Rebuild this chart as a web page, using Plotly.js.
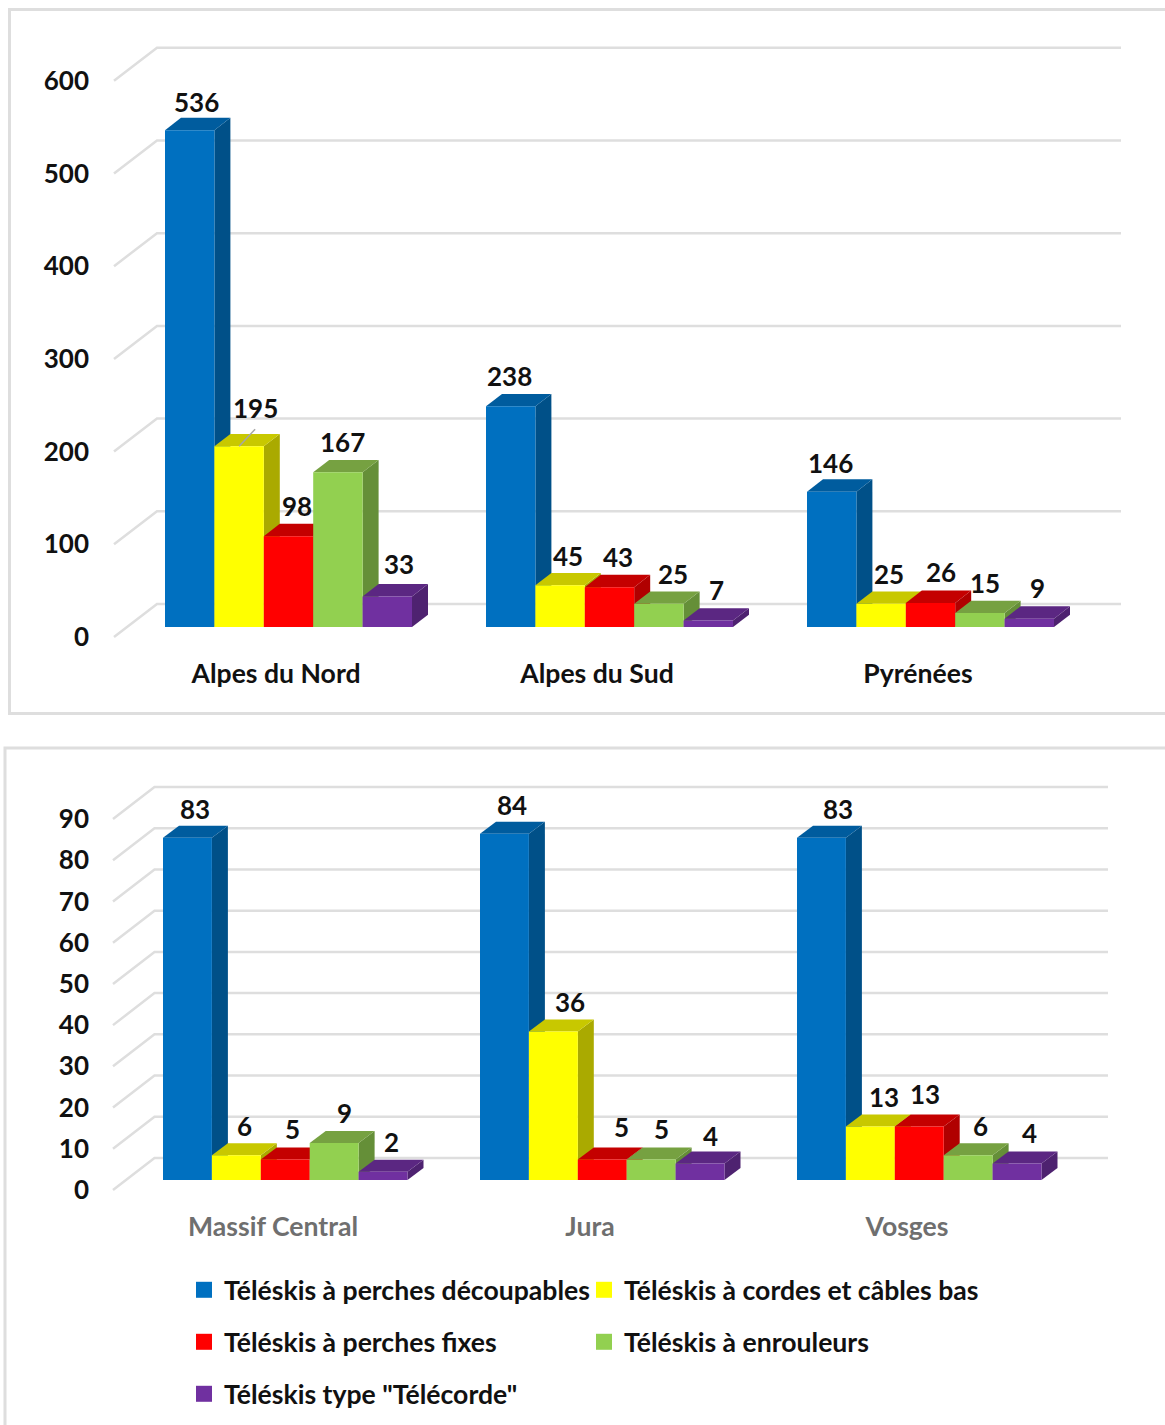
<!DOCTYPE html>
<html><head><meta charset="utf-8">
<script src="https://cdn.plot.ly/plotly-3.0.1.min.js"></script>
<style>html,body{margin:0;padding:0;background:#fff}#c{width:1165px;height:1425px}</style>
</head><body><div id="c"></div>
<script>
// ---- data ----
const seriesNames = ['Téléskis à perches découpables','Téléskis à cordes et câbles bas','Téléskis à perches fixes','Téléskis à enrouleurs','Téléskis type "Télécorde"'];
const topCategories = ['Alpes du Nord','Alpes du Sud','Pyrénées'];
const bottomCategories = ['Massif Central','Jura','Vosges'];
const topPerches = [536,238,146];
const topCordes = [195,45,25];
const topFixes = [98,43,26];
const topEnrouleurs = [167,25,15];
const topTelecorde = [33,7,9];
const bottomPerches = [83,84,83];
const bottomCordes = [6,36,13];
const bottomFixes = [5,5,13];
const bottomEnrouleurs = [9,5,6];
const bottomTelecorde = [2,4,4];
const topTicks = [0,100,200,300,400,500,600];
const bottomTicks = [0,10,20,30,40,50,60,70,80,90];

// ---- style ----
const W=1165,H=1425;
const frontColors=['#0070C0','#FFFF00','#FF0000','#92D050','#7030A0'];
const topColors=['#005c9e','#c8c800','#c40000','#76a141','#5b2782'];
const sideColors=['#005088','#aaaa00','#b00000','#658f38','#4e2270'];
const FONT='Lato, sans-serif', FS=26.6, NUM=26, INK='#111111', GRID='#dedede';
const topLabelDx=[[7,16,8,5,12],[-1,8,8,14,8],[-1,8,10.5,5,8]];
const topLabelDy=[[28,38,30,30,32],[30,29,30,30,30.5],[29,30,31,30,30.6]];
const botLabelDx=[[8,8,7,10,8],[8,17,19,10,10],[17,14,6,12,12]];
const botLabelDy=[[29,29,30,30,30],[29,30,32,30,27.5],[29,29,32,29,30.5]];
const panels=[
 {sx:'',cats:topCategories,series:[topPerches,topCordes,topFixes,topEnrouleurs,topTelecorde],ticks:topTicks,
  pxPer:0.927,zeroY:637,baseY:627,wallX:114,wallDx:43,wallDy:33,barX:165,barW:49.4,depthX:16,depthY:12.3,
  labelX:276,step:321,gridEnd:1121,domTop:15,domBot:655,tickColor:INK,ldx:topLabelDx,ldy:topLabelDy},
 {sx:'2',cats:bottomCategories,series:[bottomPerches,bottomCordes,bottomFixes,bottomEnrouleurs,bottomTelecorde],ticks:bottomTicks,
  pxPer:4.122,zeroY:1190,baseY:1180,wallX:113,wallDx:41.5,wallDy:32,barX:163,barW:48.9,depthX:16,depthY:12,
  labelX:273,step:317,gridEnd:1108,domTop:755,domBot:1208,tickColor:'#6f6f6f',ldx:botLabelDx,ldy:botLabelDy}
];

const traces=[],shapes=[],annotations=[],layout={};
// panel frames
shapes.push({type:'rect',xref:'paper',yref:'paper',x0:9.5/W,x1:1.02,y0:1-9.5/H,y1:1-713.5/H,line:{color:GRID,width:3},fillcolor:'rgba(0,0,0,0)',layer:'below'});
shapes.push({type:'path',xref:'paper',yref:'paper',path:`M ${5/W} 0 L ${5/W} ${1-748/H} L 1.02 ${1-748/H}`,line:{color:GRID,width:3},layer:'below'});

panels.forEach((p,pi)=>{
  const xa='x'+p.sx, ya='y'+p.sx;
  const ux=v=>v/p.step, uy=v=>v/p.pxPer;
  const X=px=>(px-p.labelX)/p.step;
  const baseUnits=uy(p.zeroY-p.baseY);
  // walls and gridlines
  p.ticks.forEach(t=>{
    const x0=X(p.wallX),x1=X(p.wallX+p.wallDx),x2=X(p.gridEnd),y0=t,y1=t+uy(p.wallDy);
    shapes.push({type:'path',xref:xa,yref:ya,layer:'below',line:{color:GRID,width:2.5},
      path:`M ${x0} ${y0} L ${x1} ${y1} L ${x2} ${y1}`});
  });
  // side + top faces, in series order
  p.series.forEach((vals,s)=>{
    vals.forEach((v,g)=>{
      const l=X(p.barX+p.step*g)+ux(p.barW)*s, r=l+ux(p.barW), dx=ux(p.depthX), dy=uy(p.depthY);
      const b=baseUnits, tp=b+v;
      shapes.push({type:'path',xref:xa,yref:ya,layer:'below',line:{width:0},fillcolor:sideColors[s],
        path:`M ${r} ${b} L ${r+dx} ${b+dy} L ${r+dx} ${tp+dy} L ${r} ${tp} Z`});
      shapes.push({type:'path',xref:xa,yref:ya,layer:'below',line:{width:0},fillcolor:topColors[s],
        path:`M ${l} ${tp} L ${l+dx} ${tp+dy} L ${r+dx} ${tp+dy} L ${r} ${tp} Z`});
      annotations.push({xref:xa,yref:ya,x:l+ux(p.barW)/2,y:tp,text:String(v),showarrow:false,
        xanchor:'center',yanchor:'middle',xshift:p.ldx[g][s],yshift:p.ldy[g][s],
        font:{family:FONT,size:NUM,color:INK,weight:700}});
    });
  });
  // front faces
  p.series.forEach((vals,s)=>{
    traces.push({type:'bar',name:seriesNames[s],x:[0,1,2],y:vals,base:[baseUnits,baseUnits,baseUnits],
      xaxis:xa,yaxis:ya,width:ux(p.barW),offset:X(p.barX)+ux(p.barW)*s,
      marker:{color:frontColors[s],line:{width:0}},showlegend:false,hoverinfo:'y+name'});
  });
  const suffix=p.sx;
  layout['xaxis'+suffix]={domain:[0,1],range:[X(0),X(W)],anchor:ya,tickmode:'array',tickvals:[0,1,2],ticktext:p.cats,
    ticks:'',showgrid:false,zeroline:false,showline:false,fixedrange:true,
    tickfont:{family:FONT,size:FS,color:p.tickColor,weight:700}};
  layout['yaxis'+suffix]={domain:[1-p.domBot/H,1-p.domTop/H],range:[uy(p.zeroY-p.domBot),uy(p.zeroY-p.domTop)],
    anchor:'free',position:89/W,side:'left',tickmode:'array',tickvals:p.ticks,ticks:'',showgrid:false,zeroline:false,showline:false,fixedrange:true,
    tickfont:{family:FONT,size:NUM,color:INK,weight:700}};
  if(pi===0){
    const l=X(p.barX)+ux(p.barW)*1+ux(p.barW)/2, tp=baseUnits+topCordes[0];
    shapes.push({type:'line',xref:xa,yref:ya,layer:'above',line:{color:'#a6a6a6',width:1.5},x0:l,y0:tp,x1:l+ux(16),y1:tp+uy(17)});
  }
});

// legend keys, one block per entry
const legendPos=[[184,1290],[584,1290],[184,1342],[584,1342],[184,1394]];
legendPos.forEach((q,i)=>{
  const key=i===0?'legend':'legend'+(i+1);
  traces.push({type:'scatter',mode:'markers',name:seriesNames[i],x:[null],y:[null],xaxis:'x2',yaxis:'y2',legend:key,
    marker:{symbol:'square',size:16,color:frontColors[i]},showlegend:true,hoverinfo:'skip'});
  layout[key]={x:q[0]/W,xanchor:'left',y:1-q[1]/H,yanchor:'middle',bgcolor:'rgba(0,0,0,0)',
    borderwidth:0,font:{family:FONT,size:FS,color:INK,weight:700},itemclick:false,itemdoubleclick:false};
});

Object.assign(layout,{width:W,height:H,margin:{l:0,r:0,t:0,b:0},paper_bgcolor:'#fff',plot_bgcolor:'rgba(0,0,0,0)',
  barmode:'overlay',showlegend:true,shapes,annotations});
Plotly.newPlot('c',traces,layout,{displayModeBar:false,staticPlot:true});
</script></body></html>
